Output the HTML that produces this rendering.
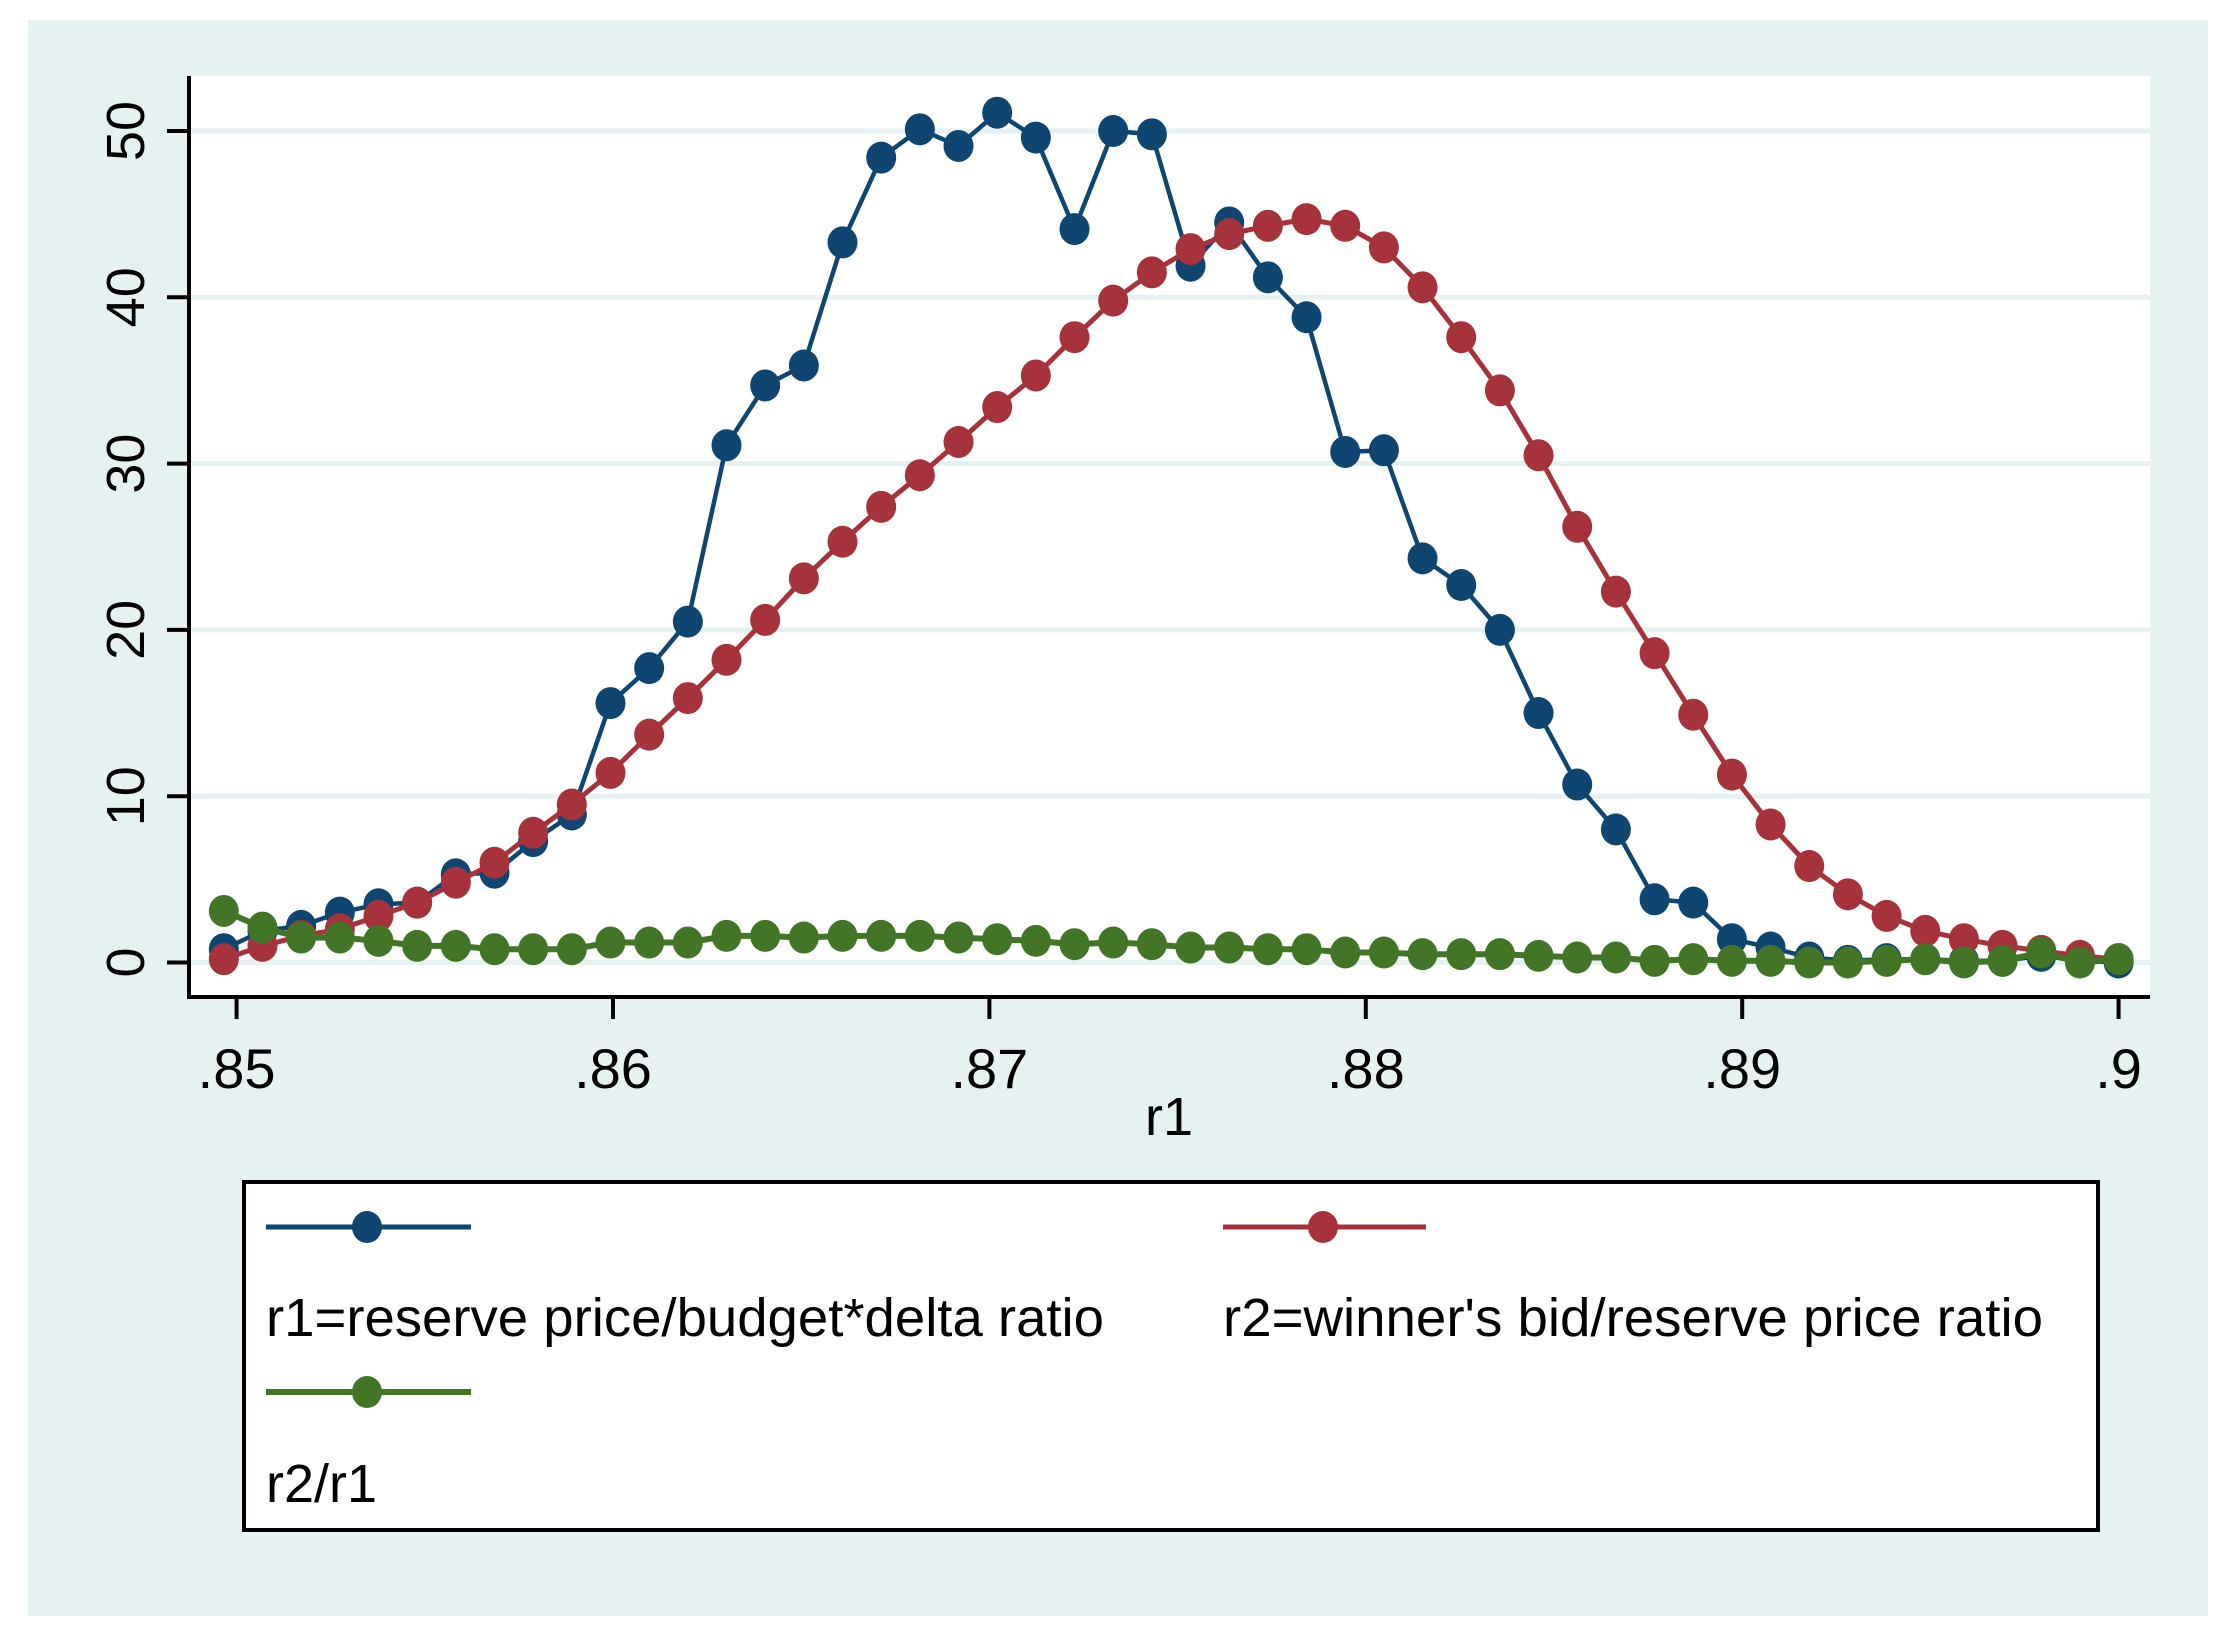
<!DOCTYPE html>
<html><head><meta charset="utf-8"><style>
html,body{margin:0;padding:0;background:#fff;}
svg{display:block;font-family:"Liberation Sans",Arial,sans-serif;}
</style></head><body>
<svg id="chart" width="2230" height="1641" viewBox="0 0 2230 1641">
<rect x="28" y="20" width="2180" height="1596" fill="#e6f1f1"/>
<rect x="189" y="76" width="1961" height="921" fill="#ffffff"/>
<g id="grid"></g>
<g id="series"></g>
<g id="axes"></g>
<rect x="244" y="1182" width="1854" height="348" fill="#ffffff" stroke="#000" stroke-width="4"/>
<g>
<line x1="266" y1="1227" x2="471" y2="1227" stroke="#0e4671" stroke-width="5"/>
<ellipse cx="367" cy="1227" rx="15" ry="16" fill="#0e4671"/>
<text x="266" y="1336" font-size="54" textLength="838" lengthAdjust="spacingAndGlyphs">r1=reserve price/budget*delta ratio</text>
</g>
<g>
<line x1="1223" y1="1227" x2="1426" y2="1227" stroke="#a6323c" stroke-width="5"/>
<ellipse cx="1323" cy="1227" rx="15" ry="16" fill="#a6323c"/>
<text x="1223" y="1336" font-size="54" textLength="820" lengthAdjust="spacingAndGlyphs">r2=winner's bid/reserve price ratio</text>
</g>
<g>
<line x1="266" y1="1392" x2="471" y2="1392" stroke="#437526" stroke-width="6"/>
<ellipse cx="367" cy="1392" rx="15" ry="16" fill="#437526"/>
<text x="266" y="1502" font-size="54" textLength="111" lengthAdjust="spacingAndGlyphs">r2/r1</text>
</g>
<text x="1169" y="1135" font-size="54" text-anchor="middle">r1</text>
</svg>
<script>
const xStart = 0.84966;
const xEnd = 0.9;
const blueVals = [0.8,1.9,2.2,3.0,3.5,3.6,5.3,5.4,7.3,8.9,15.6,17.7,20.5,31.1,34.7,35.9,43.3,48.4,50.1,49.1,51.1,49.6,44.1,50.0,49.8,41.9,44.5,41.2,38.8,30.7,30.8,24.3,22.7,20.0,15.0,10.7,8.0,3.8,3.6,1.4,0.9,0.3,0.1,0.2,0.2,0.1,0.1,0.4,0.1,0.0];
const redVals = [0.2,1.0,1.6,2.0,2.8,3.6,4.8,6.0,7.8,9.5,11.4,13.7,15.9,18.2,20.6,23.1,25.3,27.4,29.3,31.3,33.4,35.3,37.6,39.8,41.5,42.9,43.8,44.3,44.7,44.3,43.0,40.6,37.6,34.4,30.5,26.2,22.3,18.6,14.9,11.3,8.3,5.8,4.1,2.8,1.9,1.4,1.0,0.7,0.4,0.2];
const greenVals = [3.1,2.1,1.5,1.5,1.3,1.0,1.0,0.8,0.8,0.8,1.2,1.2,1.2,1.6,1.6,1.5,1.6,1.6,1.6,1.5,1.4,1.3,1.1,1.2,1.1,0.9,0.9,0.8,0.8,0.6,0.6,0.5,0.5,0.5,0.4,0.3,0.3,0.1,0.2,0.1,0.1,0.0,0.0,0.1,0.2,0.0,0.1,0.6,0.0,0.2];
const xTicks = [0.85,0.86,0.87,0.88,0.89,0.9];
const xTickLabels = [".85",".86",".87",".88",".89",".9"];
const yTicks = [0,10,20,30,40,50];
const yTickLabels = ["0","10","20","30","40","50"];

const NS = "http://www.w3.org/2000/svg";
const X0 = 236.6, XPX = 37640;
const Y0 = 962.5, YPX = 16.63;
function xs(v){ return X0 + (v - 0.85) * XPX; }
function ys(v){ return Y0 - v * YPX; }
function mk(tag, attrs, parent){ const e = document.createElementNS(NS, tag); for (const k in attrs) e.setAttribute(k, attrs[k]); parent.appendChild(e); return e; }

const grid = document.getElementById('grid');
const axes = document.getElementById('axes');
const series = document.getElementById('series');

yTicks.forEach((t, i) => {
  const g = mk('line', {x1:191, x2:2150, y1:ys(t), y2:ys(t), stroke:'#e6f1f1', 'stroke-width':5}, grid);
  
  
  const tk = mk('line', {x1:167, x2:189, y1:ys(t), y2:ys(t), stroke:'#000', 'stroke-width':4}, axes);
  
  
  const tx = mk('text', {x:0, y:0, 'font-size':54, 'text-anchor':'middle', transform:'translate(144,' + ys(t) + ') rotate(-90)'}, axes);
  tx.textContent = yTickLabels[i];
  
  
});
xTicks.forEach((t, i) => {
  const tk = mk('line', {x1:xs(t), x2:xs(t), y1:997, y2:1019, stroke:'#000', 'stroke-width':4}, axes);
  
  
  const tx = mk('text', {x:xs(t), y:1088, 'font-size':56, 'text-anchor':'middle'}, axes);
  tx.textContent = xTickLabels[i];
  
  
});
const ya = mk('line', {x1:189, x2:189, y1:76, y2:999, stroke:'#000', 'stroke-width':4}, axes);


const xa = mk('line', {x1:187, x2:2150, y1:997, y2:997, stroke:'#000', 'stroke-width':4}, axes);



function drawSeries(vals, color, name, lw){
  const n = vals.length;
  const step = (xEnd - xStart) / (n - 1);
  const g = mk('g', {}, series);
  
  
  const pts = vals.map((v, i) => xs(xStart + i * step).toFixed(1) + ',' + ys(v).toFixed(1)).join(' ');
  const pl = mk('polyline', {points:pts, fill:'none', stroke:color, 'stroke-width':lw, 'stroke-linejoin':'round'}, g);
  
  
  vals.forEach((v, i) => {
    const c = mk('ellipse', {cx:xs(xStart + i * step), cy:ys(v), rx:15, ry:16, fill:color}, g);
    
    
  });
}
drawSeries(blueVals, '#0e4671', 'r1', 4.5);
drawSeries(redVals, '#a6323c', 'r2', 5);
drawSeries(greenVals, '#437526', 'r2-over-r1', 6);
</script>
</body></html>
